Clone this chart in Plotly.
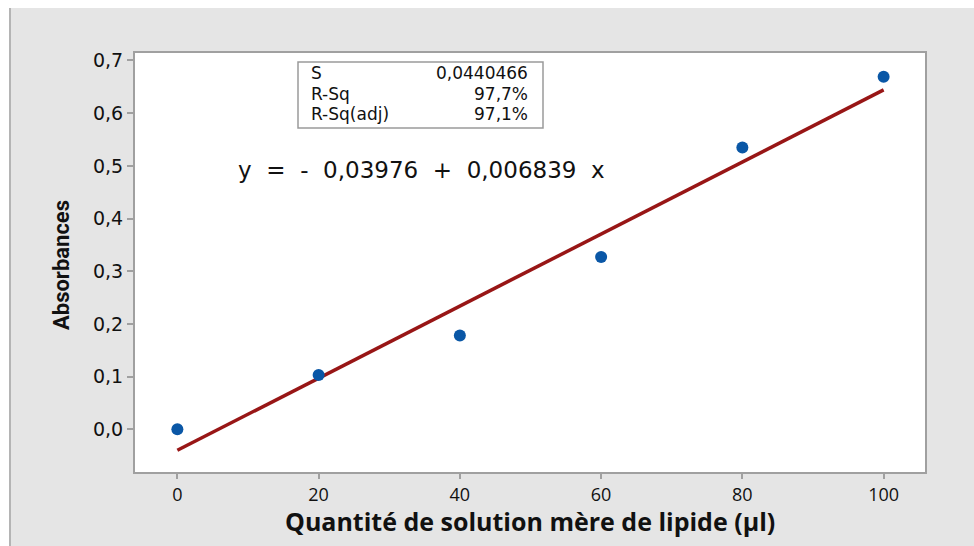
import plotly.graph_objects as go

# Calibration data: lipid stock volume vs absorbance
volume_ul = [0, 20, 40, 60, 80, 100]
absorbance = [0.0, 0.103, 0.178, 0.327, 0.535, 0.669]

# Fitted regression (Minitab output)
intercept = -0.03976
slope = 0.006839
stat_names = ["S", "R-Sq", "R-Sq(adj)"]
stat_values = ["0,0440466", "97,7%", "97,1%"]

fit_x = [volume_ul[0], volume_ul[-1]]
fit_y = [intercept + slope * v for v in fit_x]

fig = go.Figure()
fig.add_trace(go.Scatter(
    x=fit_x, y=fit_y, mode="lines",
    line=dict(color="#981616", width=3.5),
    hoverinfo="skip", showlegend=False,
))
fig.add_trace(go.Scatter(
    x=volume_ul, y=absorbance, mode="markers",
    marker=dict(color="#0a57a6", size=12, line=dict(width=0)),
    showlegend=False,
))

# pixel helpers for the 974x546 canvas
L, R, T, B = 135, 925, 53, 472
def px(p):
    return (p - L) / (R - L)
def py(p):
    return (B - p) / (B - T)

shapes = [
    # white margins at the top and left of the canvas
    dict(type="rect", xref="paper", yref="paper", x0=-0.3, x1=1.2,
         y0=py(8), y1=1.3, fillcolor="white", line=dict(width=0)),
    dict(type="rect", xref="paper", yref="paper", x0=-0.3, x1=px(9),
         y0=-0.3, y1=1.3, fillcolor="white", line=dict(width=0)),
    dict(type="line", xref="paper", yref="paper", x0=px(10), x1=px(10),
         y0=py(546), y1=py(8), line=dict(color="#b4b4b4", width=2)),
    # statistics box
    dict(type="rect", xref="paper", yref="paper", x0=px(298), x1=px(543),
         y0=py(128), y1=py(62), line=dict(color="#9a9a9a", width=1.5),
         fillcolor="white"),
]

annotations = []
row_y = [73, 94, 114]
for name, val, yy in zip(stat_names, stat_values, row_y):
    annotations.append(dict(xref="paper", yref="paper", x=px(309), y=py(yy),
                            text=name, showarrow=False, xanchor="left",
                            yanchor="middle",
                            font=dict(family="DejaVu Sans", size=17, color="#111")))
    annotations.append(dict(xref="paper", yref="paper", x=px(530), y=py(yy),
                            text=val, showarrow=False, xanchor="right",
                            yanchor="middle",
                            font=dict(family="DejaVu Sans", size=17, color="#111")))

annotations.append(dict(xref="paper", yref="paper", x=px(236), y=py(170),
                        text="y  =  -  0,03976  +  0,006839  x", showarrow=False,
                        xanchor="left", yanchor="middle",
                        font=dict(family="DejaVu Sans", size=23, color="#111")))
annotations.append(dict(xref="paper", yref="paper", x=px(61), y=py(265),
                        text="<b>Absorbances</b>", showarrow=False, textangle=-90,
                        xanchor="center", yanchor="middle",
                        font=dict(family="Roboto", size=22, color="#111")))
annotations.append(dict(xref="paper", yref="paper", x=px(530), y=py(521),
                        text="<b>Quantité de solution mère de lipide (µl)</b>",
                        showarrow=False, xanchor="center", yanchor="middle",
                        font=dict(family="Open Sans", size=25, color="#111")))

fig.update_layout(
    width=974, height=546,
    margin=dict(l=L, r=974 - R, t=T, b=546 - B),
    paper_bgcolor="#e5e5e5", plot_bgcolor="white",
    separators=",.",
    shapes=shapes, annotations=annotations,
    xaxis=dict(range=[-6, 105.86], tickmode="array", tickvals=[0, 20, 40, 60, 80, 100],
               showgrid=False, zeroline=False, showline=True, mirror=True,
               linecolor="#a0a0a0", linewidth=2, ticks="outside", ticklen=5,
               tickcolor="#a0a0a0", tickwidth=1.5,
               tickfont=dict(family="Open Sans", size=18, color="#111")),
    yaxis=dict(range=[-0.081, 0.7142], tickmode="array",
               tickvals=[0, 0.1, 0.2, 0.3, 0.4, 0.5, 0.6, 0.7], tickformat=".1f",
               showgrid=False, zeroline=False, showline=True, mirror=True,
               linecolor="#a0a0a0", linewidth=2, ticks="outside", ticklen=6,
               tickcolor="#a0a0a0", tickwidth=1.5,
               tickfont=dict(family="DejaVu Sans", size=19, color="#111")),
)

fig.write_html("out.html")
